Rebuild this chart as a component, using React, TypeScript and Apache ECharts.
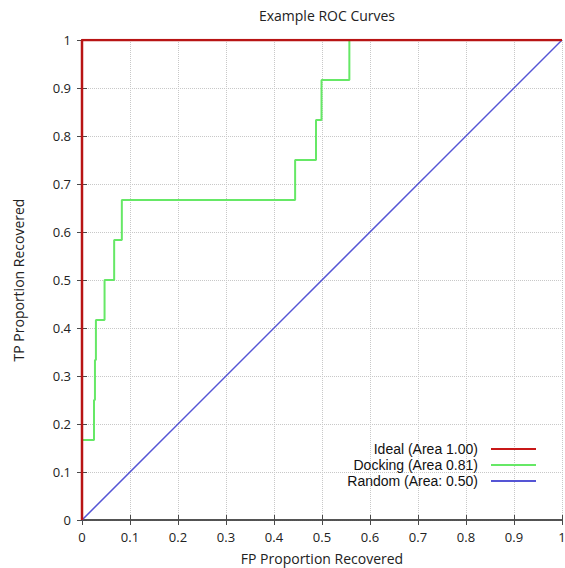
import React, { useEffect, useRef } from "react";
import * as echarts from "echarts";

const tickLabels = ["0", "0.1", "0.2", "0.3", "0.4", "0.5", "0.6", "0.7", "0.8", "0.9", "1"];

const idealX = [0, 0, 1];
const idealY = [0, 1, 1];

const dockingX = [0, 0, 0.025, 0.025, 0.027, 0.027, 0.029, 0.029, 0.047, 0.047, 0.067, 0.067, 0.083, 0.083, 0.444, 0.444, 0.4875, 0.4875, 0.499, 0.499, 0.557, 0.557];
const dockingY = [0, 0.1667, 0.1667, 0.25, 0.25, 0.3333, 0.3333, 0.4167, 0.4167, 0.5, 0.5, 0.5833, 0.5833, 0.6667, 0.6667, 0.75, 0.75, 0.8333, 0.8333, 0.9167, 0.9167, 1.0];

const randomX = [0, 1];
const randomY = [0, 1];

const seriesNames = ["Ideal (Area 1.00)", "Docking (Area 0.81)", "Random (Area: 0.50)"];

const zip = (xs: number[], ys: number[]) => xs.map((x, i) => [x, ys[i]]);

const FONT = "'Open Sans', sans-serif";
const LEGEND_FONT = "'Liberation Sans', Arial, sans-serif";

export default function App() {
  const ref = useRef<HTMLDivElement>(null);
  useEffect(() => {
    if (!ref.current) return;
    const chart = echarts.init(ref.current, null, { renderer: "svg" });
    const fmt = (v: number) => tickLabels[Math.round(v * 10)] ?? "";
    const frameColor = "#4a4a4a";
    chart.setOption({
      animation: false,
      textStyle: { fontFamily: FONT },
      title: {
        text: "Example ROC Curves",
        left: 322,
        textAlign: "center",
        top: 3,
        textStyle: { fontSize: 14, fontWeight: "normal", color: "#222", fontFamily: FONT },
      },
      grid: { left: 82, top: 40, width: 480, height: 480, containLabel: false, outerBoundsMode: "none" },
      legend: {
        orient: "vertical",
        right: 24,
        top: 436,
        align: "right",
        icon: "rect",
        itemWidth: 45,
        itemHeight: 2,
        itemGap: 0,
        data: seriesNames,
        textStyle: { fontSize: 14, lineHeight: 16, color: "#111", padding: [0, 8, 0, 0], fontFamily: LEGEND_FONT },
      },
      xAxis: [
        {
          type: "value",
          min: 0,
          max: 1,
          interval: 0.1,
          position: "bottom",
          name: "FP Proportion Recovered",
          nameLocation: "middle",
          nameGap: 31,
          nameTextStyle: { fontSize: 14, color: "#222", fontFamily: FONT },
          axisLine: { show: true, lineStyle: { color: frameColor, width: 1.5 } },
          axisTick: { show: true, inside: true, length: 5, lineStyle: { color: frameColor } },
          axisLabel: { formatter: fmt, fontSize: 13, color: "#222", margin: 10, fontFamily: FONT },
          splitLine: { show: true, lineStyle: { type: "dotted", color: "#c8c8c8" } },
        },
        {
          type: "value",
          min: 0,
          max: 1,
          interval: 0.1,
          position: "top",
          axisLine: { show: true, lineStyle: { color: frameColor, width: 1.5 } },
          axisTick: { show: true, inside: true, length: 5, lineStyle: { color: frameColor } },
          axisLabel: { show: false },
          splitLine: { show: false },
        },
      ],
      yAxis: [
        {
          type: "value",
          min: 0,
          max: 1,
          interval: 0.1,
          position: "left",
          name: "TP Proportion Recovered",
          nameLocation: "middle",
          nameGap: 57,
          nameTextStyle: { fontSize: 14, color: "#222", fontFamily: FONT },
          axisLine: { show: true, lineStyle: { color: frameColor, width: 1.5 } },
          axisTick: { show: true, inside: true, length: 5, lineStyle: { color: frameColor } },
          axisLabel: { formatter: fmt, fontSize: 13, color: "#222", margin: 11, fontFamily: FONT },
          splitLine: { show: true, lineStyle: { type: "dotted", color: "#c8c8c8" } },
        },
        {
          type: "value",
          min: 0,
          max: 1,
          interval: 0.1,
          position: "right",
          axisLine: { show: true, lineStyle: { color: frameColor, width: 1.5 } },
          axisTick: { show: true, inside: true, length: 5, lineStyle: { color: frameColor } },
          axisLabel: { show: false },
          splitLine: { show: false },
        },
      ],
      series: [
        {
          name: seriesNames[2],
          type: "line",
          data: zip(randomX, randomY),
          symbol: "none",
          color: "#5555d5",
          lineStyle: { width: 1.5, color: "#5555d5" },
          z: 3,
        },
        {
          name: seriesNames[1],
          type: "line",
          data: zip(dockingX, dockingY),
          symbol: "none",
          color: "#66e866",
          lineStyle: { width: 2, color: "#66e866" },
          z: 4,
        },
        {
          name: seriesNames[0],
          type: "line",
          data: zip(idealX, idealY),
          symbol: "none",
          color: "#c81818",
          lineStyle: { width: 2.5, color: "#b81414" },
          z: 5,
        },
      ],
    });
    return () => chart.dispose();
  }, []);
  return <div ref={ref} style={{ width: 565, height: 568, position: "absolute", left: 0, top: 0 }} />;
}
